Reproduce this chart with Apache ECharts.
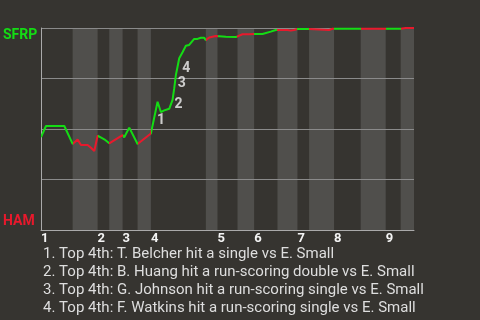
<!DOCTYPE html>
<html>
<head>
<meta charset="utf-8">
<script src="https://cdn.jsdelivr.net/npm/echarts@6/dist/echarts.min.js"></script>
<style>
html,body{margin:0;padding:0;background:#363430;}
#chart{width:480px;height:320px;}
</style>
</head>
<body>
<div id="chart"></div>
<script>
// Game progress in pitches (x) and SFRP win probability in % (y)
const pitchX = [0, 3, 14, 19, 22, 24, 28, 30, 32, 34, 38, 41, 49, 50, 53, 58, 66, 70, 72, 74, 77, 79, 80, 81, 82, 83, 85, 87, 89, 92, 94, 96, 98, 99, 101, 105, 106, 111, 117, 118, 121, 125, 126, 128, 133, 134, 138, 139, 141, 142, 148, 150, 152, 154, 161, 162, 173, 175, 216, 219, 224];
const winProb = [46.0, 51.5, 51.5, 42.6, 44.8, 42.1, 42.1, 40.7, 39.1, 46.7, 44.9, 42.9, 47.0, 45.9, 50.7, 42.6, 47.8, 63.5, 58.4, 59.2, 60.0, 64.4, 70.1, 76.7, 80.8, 85.0, 88.0, 91.2, 91.6, 94.6, 94.6, 95.2, 95.2, 94.0, 95.3, 96.0, 96.0, 95.7, 95.5, 96.0, 96.9, 96.9, 96.5, 97.0, 97.0, 97.9, 98.2, 98.7, 99.0, 99.4, 99.0, 98.7, 99.0, 99.5, 99.5, 99.0, 99.0, 99.6, 99.6, 100.0, 100.0];
// Half-inning boundaries (pitch numbers): top1, bot1, top2, bot2, ...
const halfBounds = [0, 19, 34, 41, 49, 58, 66, 99, 106, 118, 128, 142, 154, 161, 176, 192, 207, 216, 224];
const inningLabels = ['1', '2', '3', '4', '5', '6', '7', '8', '9'];
const yTicks = [0, 25, 50, 75, 100];
// Key events
const eventX = [72, 79, 81, 83];
const eventY = [58.4, 64.4, 76.7, 85.0];
const eventLabels = ['1', '2', '3', '4'];
const notes = [
  '1. Top 4th: T. Belcher hit a single vs E. Small',
  '2. Top 4th: B. Huang hit a run-scoring double vs E. Small',
  '3. Top 4th: G. Johnson hit a run-scoring single vs E. Small',
  '4. Top 4th: F. Watkins hit a run-scoring single vs E. Small'
];
const awayTeam = 'SFRP';
const homeTeam = 'HAM';

const GREEN = '#14dc14';
const RED = '#e8192c';
const eventOffsets = [[0, 8], [6, 5], [6, 8], [7, 10]];

const inningStarts = halfBounds.filter((v, i) => i % 2 === 0 && i < halfBounds.length - 1);
const pieces = [];
const bands = [];
for (let i = 0; i < halfBounds.length - 1; i++) {
  pieces.push({ gte: halfBounds[i], lt: halfBounds[i + 1] + (i === halfBounds.length - 2 ? 1 : 0), color: i % 2 === 0 ? GREEN : RED });
  if (i % 2 === 1) bands.push([{ xAxis: halfBounds[i] }, { xAxis: halfBounds[i + 1] }]);
}

const chart = echarts.init(document.getElementById('chart'), null, { renderer: 'canvas' });
const font = 'Roboto, "Noto Sans", sans-serif';
chart.setOption({
  backgroundColor: '#363430',
  animation: false,
  grid: { left: 41, right: 66, top: 28, bottom: 90 },
  xAxis: {
    type: 'value', min: 0, max: halfBounds[halfBounds.length - 1],
    z: 1.5,
    axisLine: { show: true, lineStyle: { color: '#aaaaaa', width: 1 } },
    axisTick: { show: false },
    splitLine: { show: false },
    axisLabel: {
      customValues: inningStarts,
      formatter: function (v) { return inningLabels[inningStarts.indexOf(v)]; },
      align: 'left', margin: 2,
      color: '#f4f4f4', fontSize: 13, fontWeight: 'bold', fontFamily: font
    }
  },
  yAxis: {
    type: 'value', min: yTicks[0], max: yTicks[yTicks.length - 1], interval: 25,
    z: 1.5,
    axisLine: { show: true, lineStyle: { color: '#aaaaaa', width: 1 } },
    axisTick: { show: false },
    axisLabel: { show: false },
    splitLine: { show: true, lineStyle: { color: '#8a8a8a', width: 1 } }
  },
  visualMap: {
    show: false, type: 'piecewise', dimension: 0, seriesIndex: 0, pieces: pieces
  },
  series: [
    {
      type: 'line', z: 3,
      data: pitchX.map((x, i) => [x, winProb[i]]),
      symbol: 'none', lineStyle: { width: 2 },
      markArea: {
        silent: true, z: 1,
        itemStyle: { color: '#504f4c' },
        data: bands
      }
    },
    {
      type: 'scatter', z: 4,
      symbolSize: 0,
      data: eventX.map((x, i) => ({
        value: [x, eventY[i]],
        label: { offset: eventOffsets[i] }
      })),
      label: {
        show: true, position: 'inside',
        formatter: function (p) { return eventLabels[p.dataIndex]; },
        color: '#f2f2f2', fontSize: 14, fontWeight: 'bold', fontFamily: font
      }
    }
  ],
  graphic: [
    { type: 'text', left: 3, top: 28, style: { text: awayTeam, fill: GREEN, font: 'bold 14px ' + font } },
    { type: 'text', left: 3, top: 214, style: { text: homeTeam, fill: RED, font: 'bold 14px ' + font } }
  ].concat(notes.map((t, i) => ({
    type: 'text', left: 43, top: 247 + i * 18,
    style: { text: t, fill: '#dedede', font: '15px ' + font }
  })))
});
</script>
</body>
</html>
